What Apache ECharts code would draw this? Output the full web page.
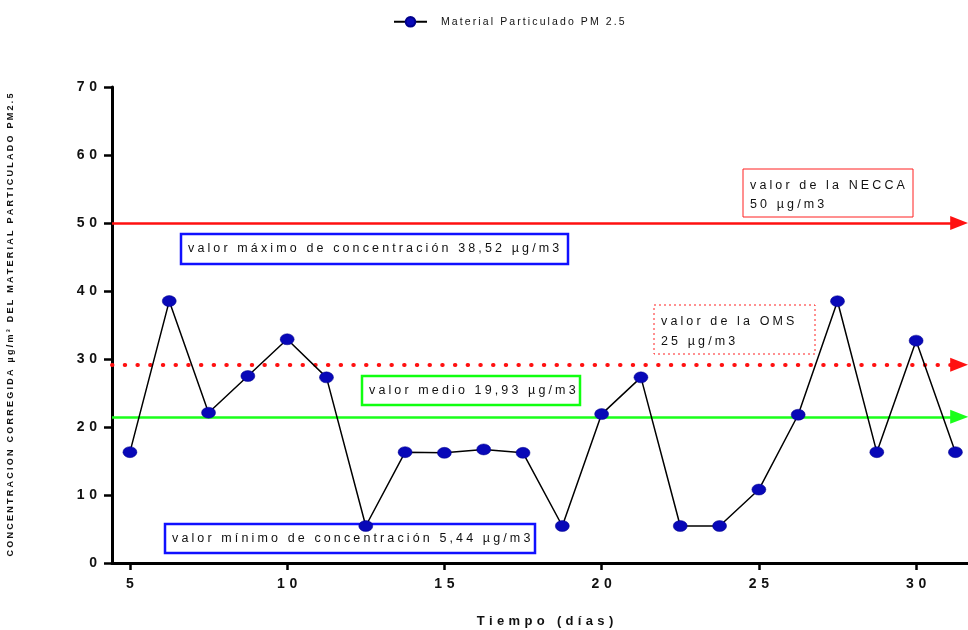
<!DOCTYPE html>
<html><head><meta charset="utf-8">
<script src="https://cdn.jsdelivr.net/npm/echarts@6/dist/echarts.min.js"></script>
<style>html,body{margin:0;padding:0;background:#fff;overflow:hidden}#c{width:968px;height:630px}</style>
</head><body><div id="c"></div>
<script>
// ---- data ----
const days = [5, 6.25, 7.5, 8.75, 10, 11.25, 12.5, 13.75, 15, 16.25, 17.5, 18.75, 20, 21.25, 22.5, 23.75, 25, 26.25, 27.5, 28.75, 30, 31.25];
const pm25 = [16.3, 38.52, 22.1, 27.5, 32.9, 27.3, 5.44, 16.3, 16.2, 16.7, 16.2, 5.44, 21.9, 27.3, 5.44, 5.44, 10.8, 21.8, 38.5, 16.3, 32.7, 16.3];
const xTickValues = [5, 10, 15, 20, 25, 30];
const yTickValues = [0, 10, 20, 30, 40, 50, 60, 70];
const limitNECCA = 50;     // solid red line
const limitOMS = 29.15;    // dotted red line (as drawn)
const meanLine = 21.5;     // green line (as drawn)
const seriesName = 'Material Particulado PM 2.5';
const xName = 'Tiempo (días)';
const yName = 'CONCENTRACION CORREGIDA µg/m³ DEL MATERIAL PARTICULADO PM2.5';
const boxMax = 'valor máximo de concentración 38,52 µg/m3';
const boxMin = 'valor mínimo de concentración 5,44 µg/m3';
const boxMean = 'valor medio 19,93 µg/m3';
const boxOMS = ['valor de la OMS', '25 µg/m3'];
const boxNECCA = ['valor de la NECCA', '50 µg/m3'];

const X_MIN = 4.43, X_MAX = 31.65, X_ARROW = 31.37;
const sp = (s, ch) => Array.from(s).join(ch);
const FONT = 'Liberation Sans, Arial, sans-serif';

const chart = echarts.init(document.getElementById('c'), null, {renderer: 'canvas', width: 968, height: 630});

function refLine(v, color, type, width, cap) {
  return {
    symbol: ['none', 'triangle'],
    symbolSize: [14, 18],
    lineStyle: {color: color, type: type, width: width, cap: cap || 'butt'},
    itemStyle: {color: color},
    label: {show: false},
    emphasis: {disabled: true},
    data: [[{coord: [X_MIN, v]}, {coord: [X_ARROW, v]}]]
  };
}

function box(x, y, w, h, stroke, lw, dash, lines, tx) {
  const els = [{
    type: 'rect', shape: {x: x, y: y, width: w, height: h}, z: 0,
    style: {fill: '#fff', stroke: stroke, lineWidth: lw, lineDash: dash || null}
  }];
  lines.forEach((t, i) => {
    els.push({
      type: 'text', z: 1, x: x + 7, y: tx[i],
      style: {text: sp(t, '\u2005'), fill: '#111', font: '12.5px ' + FONT, textVerticalAlign: 'middle'}
    });
  });
  return els;
}

const option = {
  animation: false,
  backgroundColor: '#fff',
  legend: {
    top: 11, left: 388,
    itemWidth: 33, itemHeight: 12,
    textStyle: {fontFamily: FONT, fontSize: 10.5, color: '#111', padding: [0, 0, 0, 9]},
    formatter: n => sp(n, '\u2009'),
    data: [seriesName]
  },
  grid: {left: 112, right: 0, top: 87, bottom: 67, containLabel: false, outerBoundsMode: 'none'},
  xAxis: {
    type: 'value', min: X_MIN, max: X_MAX,
    name: sp(xName, '\u2004'), nameLocation: 'middle', nameGap: 52,
    nameTextStyle: {fontFamily: FONT, fontSize: 13, fontWeight: 'bold', color: '#111', padding: [0, 0, 0, 10]},
    axisLine: {show: true, lineStyle: {color: '#000', width: 3}},
    axisTick: {show: true, length: 7, lineStyle: {color: '#000', width: 2.5}, customValues: xTickValues},
    axisLabel: {margin: 14, fontFamily: FONT, fontSize: 14, fontWeight: 'bold', color: '#111',
      customValues: xTickValues, formatter: v => sp(String(v), '\u2004')},
    splitLine: {show: false}
  },
  yAxis: {
    type: 'value', min: 0, max: 70, interval: 10,
    name: sp(yName, '\u2005'), nameLocation: 'middle', nameGap: 97,
    nameTextStyle: {fontFamily: FONT, fontSize: 9, fontWeight: 'bold', color: '#111'},
    axisLine: {show: true, lineStyle: {color: '#000', width: 3}},
    axisTick: {show: true, length: 8, lineStyle: {color: '#000', width: 2.5}},
    axisLabel: {margin: 15, fontFamily: FONT, fontSize: 14, fontWeight: 'bold', color: '#111',
      formatter: v => sp(String(v), '\u2004')},
    splitLine: {show: false}
  },
  series: [
    {
      name: seriesName, type: 'line', z: 5,
      data: days.map((d, i) => [d, pm25[i]]),
      symbol: 'circle', symbolSize: [14, 11],
      itemStyle: {color: '#0808b8', borderColor: '#00008a', borderWidth: 0.5},
      lineStyle: {color: '#000', width: 1.5},
      emphasis: {disabled: true},
      markLine: refLine(limitNECCA, '#ff1010', 'solid', 2.5)
    },
    {
      type: 'line', data: [], z: 3, silent: true,
      markLine: refLine(limitOMS, '#ff1010', [0.5, 12.2], 4, 'round')
    },
    {
      type: 'line', data: [], z: 3, silent: true,
      markLine: refLine(meanLine, '#1aff1a', 'solid', 2.5)
    }
  ],
  graphic: [].concat(
    box(181, 234, 387, 30, '#1010ff', 2.5, null, [boxMax], [249]),
    box(165, 524, 370, 29, '#1010ff', 2.5, null, [boxMin], [539]),
    box(362, 376, 218, 29, '#10ff10', 2.5, null, [boxMean], [391]),
    box(654, 305, 161, 49, '#ff2020', 1, [2, 3], boxOMS, [322, 342]),
    box(743, 169, 170, 48, '#ff2020', 1, null, boxNECCA, [186, 205])
  )
};
chart.setOption(option);
</script></body></html>
